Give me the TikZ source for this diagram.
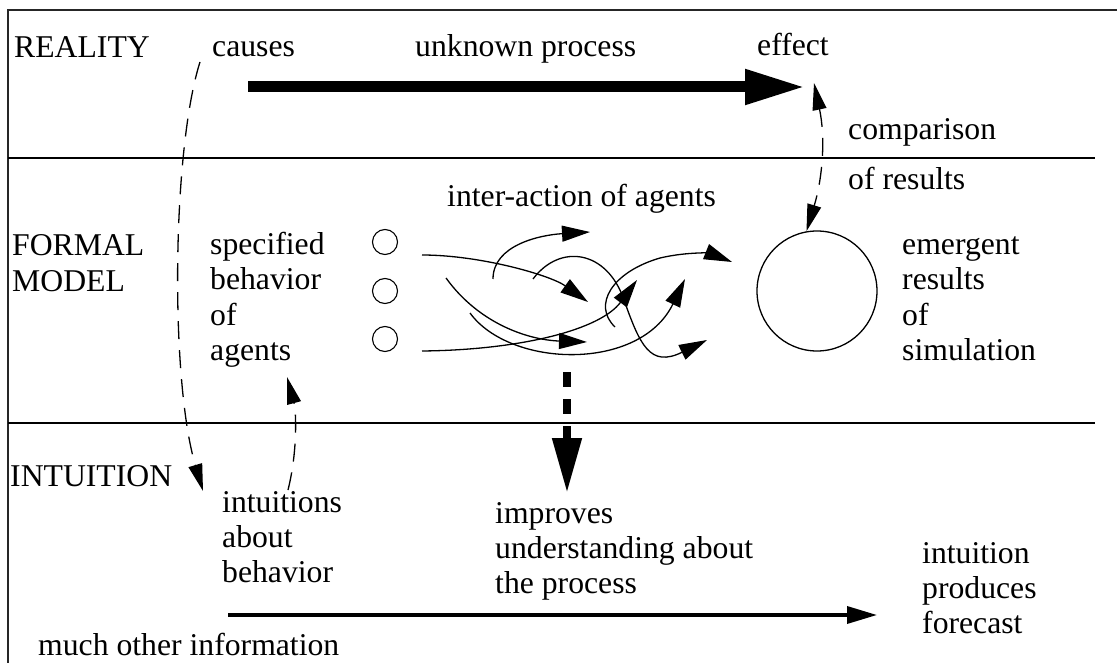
\documentclass[tikz,border=0pt]{standalone}
\usepackage{fontspec}
\setmainfont{Liberation Serif}
\usetikzlibrary{arrows.meta}
\tikzset{dtip/.tip={Triangle[length=27pt,width=14pt]}}
\begin{document}
\begin{tikzpicture}[x=1pt,y=-1pt,
  lbl/.style={anchor=base west, inner sep=0pt, font=\fontsize{31.7}{35}\selectfont},
  frame/.style={line width=1.3pt},
  agent/.style={circle, draw, line width=1.1pt, minimum size=25pt, inner sep=0pt},
  flow/.style={line width=1.3pt, -{Triangle[length=28pt,width=16pt]}},
  dashlink/.style={line width=1.3pt, dash pattern=on 18pt off 11pt}
]
\useasboundingbox (0,0) rectangle (1117,663);
% frame and bands
\draw[line width=2.3pt, black!85] (8,663) -- (8,10) -- (1117,10);
\draw[frame] (8,158) -- (1095,158);
\draw[frame] (8,423) -- (1095,423);

% labels
\node[lbl] (reality) at (14,58) {REALITY};
\node[lbl] (causes) at (212,57) {causes};
\node[lbl] (unknown) at (415,57) {unknown process};
\node[lbl] (effect) at (757,56) {effect};
\node[lbl] (comp) at (848,140) {comparison};
\node[lbl] (ofres) at (848,190) {of results};
\node[lbl] (inter) at (447,207) {inter-action of agents};
\node[lbl] (formal) at (12,256) {FORMAL};
\node[lbl] (model) at (12,291) {MODEL};
\node[lbl] (spec1) at (210,255) {specified};
\node[lbl] (spec2) at (210,290) {behavior};
\node[lbl] (spec3) at (210,325) {of};
\node[lbl] (spec4) at (210,360) {agents};
\node[lbl] (em1) at (902,255) {emergent};
\node[lbl] (em2) at (902,290) {results};
\node[lbl] (em3) at (902,325) {of};
\node[lbl] (em4) at (902,360) {simulation};
\node[lbl] (intuit) at (10,486) {INTUITION};
\node[lbl] (ia1) at (222,512) {intuitions};
\node[lbl] (ia2) at (222,547) {about};
\node[lbl] (ia3) at (222,582) {behavior};
\node[lbl] (imp1) at (495,523) {improves};
\node[lbl] (imp2) at (495,558) {understanding about};
\node[lbl] (imp3) at (495,593) {the process};
\node[lbl] (fc1) at (922,563) {intuition};
\node[lbl] (fc2) at (922,598) {produces};
\node[lbl] (fc3) at (922,633) {forecast};
\node[lbl] (much) at (38,655) {much other information};

% agents and result
\node[agent] (a1) at (385,242) {};
\node[agent] (a2) at (385,291) {};
\node[agent] (a3) at (385,339) {};
\node[circle, draw, line width=1.3pt, minimum size=120pt, inner sep=0pt] (big) at (817,291) {};

% reality arrow
\coordinate (rs) at (248,87);
\coordinate (rt) at (805,87);
\draw[line width=11pt, -{Triangle[length=60pt,width=33pt]}] (rs) -- (rt);

% comparison double arrow
\coordinate (ct) at (814,83);
\draw[dashlink, dtip-dtip] (ct) .. controls (826,140) and (822,180) .. (big.100);

% causes -> intuitions
\coordinate (c1) at (200,62);
\coordinate (c2) at (203,491);
\draw[dashlink, -dtip] (c1) .. controls (172,150) and (170,380) .. (c2);

% intuitions -> specified behavior
\coordinate (b1) at (288,490);
\coordinate (b2) at (287,377);
\draw[dashlink, -dtip] (b1) .. controls (298,450) and (296,410) .. (b2);

% tangle of interactions
\coordinate (t1s) at (422,255); \coordinate (t1e) at (588,302);
\coordinate (t2s) at (422,351); \coordinate (t2e) at (637,280);
\coordinate (t3s) at (493,279); \coordinate (t3e) at (590,232);
\coordinate (t4s) at (446,278); \coordinate (t4e) at (587,342);
\coordinate (t5s) at (470,313); \coordinate (t5e) at (685,279);
\coordinate (t6s) at (533,279); \coordinate (t6e) at (707,340);
\coordinate (t7s) at (615,327); \coordinate (t7e) at (732,262);
\draw[flow] (t1s) .. controls (480,255) and (550,275) .. (t1e);
\draw[flow] (t2s) .. controls (520,350) and (600,330) .. (t2e);
\draw[flow] (t3s) .. controls (493,245) and (540,235) .. (t3e);
\draw[flow] (t4s) .. controls (480,325) and (530,340) .. (t4e);
\draw[flow] (t5s) .. controls (510,368) and (640,372) .. (t5e);
\draw[flow] (t6s) .. controls (560,243) and (607,250) .. (624,300)
             .. controls (640,345) and (650,368) .. (t6e);
\draw[flow] (t7s) .. controls (592,305) and (612,272) .. (660,258)
             .. controls (690,251) and (712,254) .. (t7e);

% improves understanding
\coordinate (ds) at (567,372);
\coordinate (de) at (567,493);
\draw[line width=8pt, dash pattern=on 15pt off 12pt, -{Triangle[length=55pt,width=28pt]}] (ds) -- (de);

% other information
\coordinate (os) at (228,615);
\coordinate (oe) at (877,615);
\draw[line width=3.5pt, -{Triangle[length=30pt,width=17pt]}] (os) -- (oe);
\end{tikzpicture}
\end{document}
